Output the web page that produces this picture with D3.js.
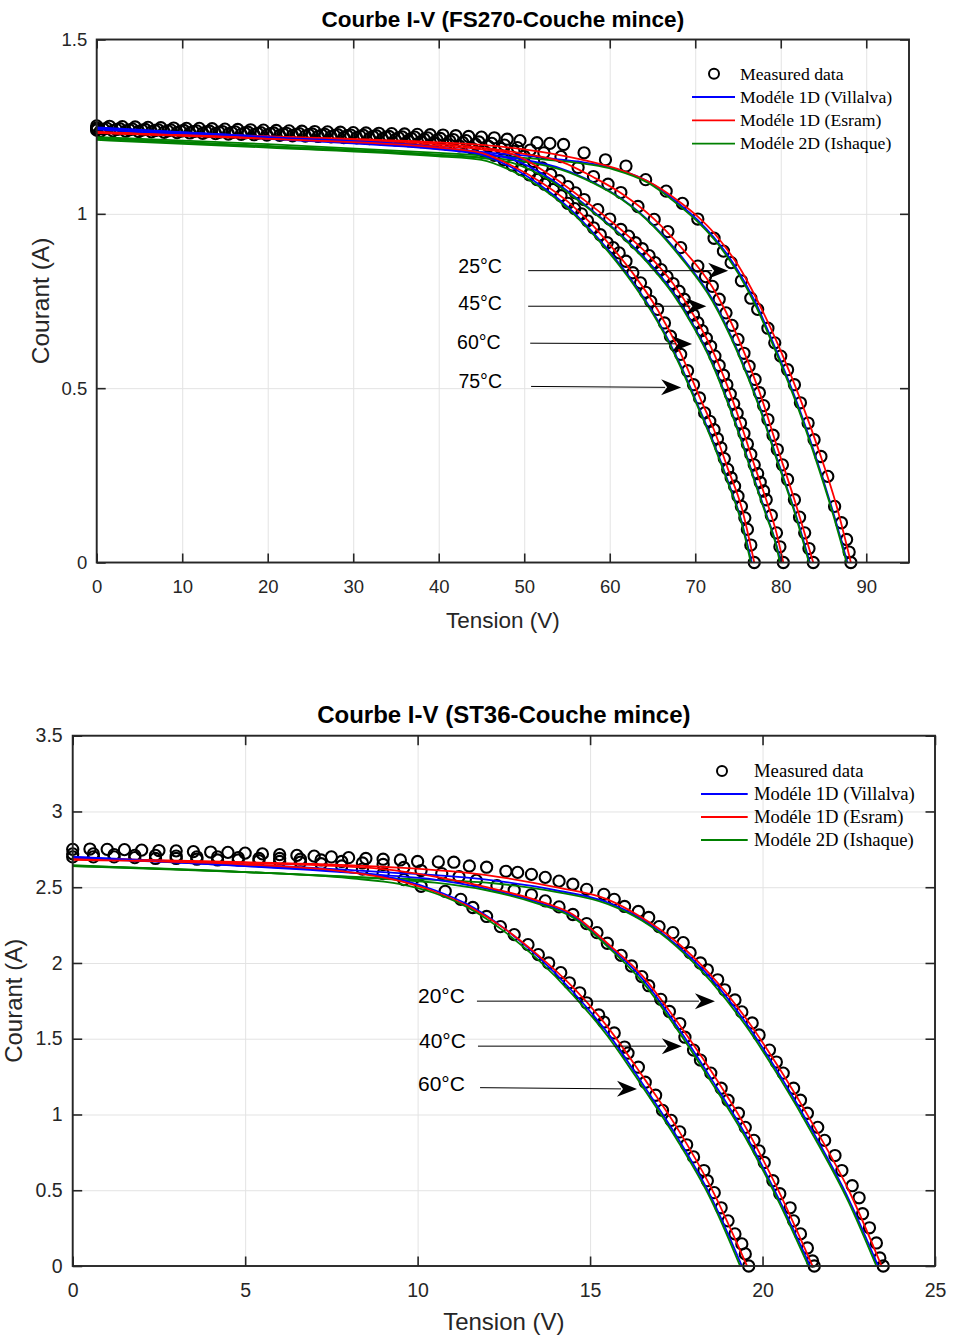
<!DOCTYPE html>
<html>
<head>
<meta charset="utf-8">
<script src="https://cdn.jsdelivr.net/npm/d3@7"></script>
<style>
  body { margin: 0; background: #fff; }
</style>
</head>
<body>
<div id="chart"></div>
<script>
// ---------- data : FS270 (top chart) ----------
let legendLabels = ['Measured data', 'Modéle 1D (Villalva)', 'Modéle 1D (Esram)', 'Modéle 2D (Ishaque)'];

let fsTemps = ['25°C', '45°C', '60°C', '75°C'];
let fsXTicks = [0, 10, 20, 30, 40, 50, 60, 70, 80, 90];
let fsYTicks = [0, 0.5, 1, 1.5];

let fsMeasured25 = [[0,1.252],[1.5,1.251],[3,1.25],[4.5,1.249],[6,1.248],[7.5,1.247],[9,1.246],[10.5,1.245],[12,1.245],[13.5,1.244],[15,1.243],[16.5,1.242],[18,1.241],[19.5,1.24],[21,1.239],[22.5,1.238],[24,1.237],[25.5,1.236],[27,1.235],[28.5,1.234],[30,1.233],[31.5,1.232],[33,1.231],[34.5,1.23],[36,1.229],[37.5,1.228],[39,1.227],[40.5,1.226],[42,1.224],[43.5,1.222],[45,1.22],[46.5,1.218],[48,1.214],[49.5,1.21],[51.5,1.204],[53,1.202],[54.6,1.199],[57,1.175],[59.5,1.155],[61.9,1.137],[64.2,1.098],[66.6,1.065],[68.5,1.03],[70.3,0.985],[72.2,0.93],[73.3,0.893],[74.2,0.86],[75.4,0.808],[76.5,0.758],[77.3,0.726],[78.5,0.672],[79.3,0.63],[80,0.592],[80.8,0.553],[81.6,0.51],[82.3,0.458],[83.2,0.4],[83.9,0.352],[84.7,0.304],[85.5,0.247],[86.3,0.161],[87.1,0.114],[87.7,0.066],[88,0.03],[88.2,0]];
let fsMeasured45 = [[0,1.246],[1.2,1.245],[2.7,1.244],[4.2,1.243],[5.7,1.242],[7.2,1.241],[8.7,1.24],[10.2,1.239],[11.7,1.238],[13.2,1.237],[14.7,1.236],[16.2,1.235],[17.7,1.234],[19.2,1.233],[20.7,1.232],[22.2,1.231],[23.7,1.23],[25.2,1.229],[26.7,1.228],[28.2,1.227],[29.7,1.226],[31.2,1.225],[32.7,1.224],[34.2,1.222],[35.7,1.221],[37.2,1.22],[38.7,1.218],[40.2,1.216],[41.7,1.213],[43.2,1.21],[44.7,1.206],[46.2,1.202],[47.7,1.197],[49.2,1.19],[50.7,1.183],[52.3,1.175],[54.3,1.164],[56.3,1.133],[58.1,1.107],[59.8,1.085],[61.3,1.061],[63.3,1.021],[65.2,0.984],[66.8,0.949],[68.3,0.903],[70.3,0.85],[71.2,0.82],[72,0.792],[72.8,0.755],[73.6,0.716],[74.3,0.68],[75,0.64],[75.7,0.6],[76.3,0.563],[77,0.525],[77.5,0.487],[78,0.45],[78.5,0.41],[79.1,0.365],[79.6,0.324],[80.2,0.28],[80.8,0.238],[81.6,0.18],[82.2,0.13],[82.8,0.085],[83.3,0.04],[83.8,0]];
let fsMeasured60 = [[0,1.243],[0.8,1.243],[2.3,1.242],[3.8,1.241],[5.3,1.24],[6.8,1.239],[8.3,1.238],[9.8,1.237],[11.3,1.236],[12.8,1.235],[14.3,1.234],[15.8,1.233],[17.3,1.232],[18.8,1.231],[20.3,1.23],[21.8,1.229],[23.3,1.228],[24.8,1.227],[26.3,1.226],[27.8,1.225],[29.3,1.224],[30.8,1.223],[32.3,1.222],[33.8,1.22],[35.3,1.218],[36.8,1.216],[38.3,1.214],[39.8,1.212],[41.3,1.209],[42.8,1.205],[44.3,1.2],[45.8,1.194],[47.3,1.187],[48.8,1.179],[50,1.165],[51.1,1.15],[52.1,1.132],[53.1,1.113],[54.1,1.095],[55.1,1.078],[56,1.06],[57,1.041],[58.6,1.012],[60,0.985],[61.3,0.955],[62.2,0.936],[63,0.917],[63.8,0.9],[64.6,0.88],[65.3,0.86],[66,0.84],[66.7,0.82],[67.4,0.8],[68.1,0.778],[68.7,0.755],[69.3,0.733],[69.8,0.71],[70.3,0.688],[70.8,0.665],[71.3,0.643],[71.8,0.62],[72.3,0.592],[72.8,0.565],[73.3,0.537],[73.7,0.51],[74.1,0.483],[74.5,0.455],[74.9,0.428],[75.3,0.4],[75.7,0.37],[76.1,0.34],[76.5,0.31],[76.9,0.28],[77.3,0.255],[77.6,0.23],[78,0.205],[78.3,0.18],[78.9,0.135],[79.5,0.085],[79.9,0.045],[80.3,0]];
let fsMeasured75 = [[0,1.24],[0.4,1.236],[1.9,1.238],[3.4,1.237],[4.9,1.236],[6.4,1.235],[7.9,1.234],[9.4,1.233],[10.9,1.232],[12.4,1.231],[13.9,1.23],[15.4,1.229],[16.9,1.228],[18.4,1.227],[19.9,1.226],[21.4,1.225],[22.9,1.224],[24.4,1.223],[25.9,1.222],[27.4,1.221],[28.9,1.219],[30.4,1.218],[31.9,1.216],[33.4,1.214],[34.9,1.212],[36.4,1.21],[37.9,1.207],[39.4,1.204],[40.9,1.2],[42.4,1.195],[43.9,1.188],[45.2,1.18],[46.5,1.168],[47.6,1.155],[48.6,1.14],[49.6,1.127],[50.6,1.112],[51.5,1.098],[52.4,1.085],[53.4,1.07],[54.3,1.052],[55.1,1.03],[55.9,1.015],[56.7,1.0],[57.4,0.98],[58.1,0.96],[58.9,0.94],[59.7,0.917],[60.4,0.903],[61.1,0.888],[61.9,0.864],[62.7,0.831],[63.6,0.802],[64.2,0.775],[64.8,0.749],[65.6,0.726],[66.4,0.687],[67.1,0.649],[67.7,0.622],[68.3,0.597],[69.1,0.55],[69.8,0.51],[70.5,0.472],[71.1,0.429],[71.7,0.405],[72.2,0.381],[72.6,0.355],[73,0.329],[73.4,0.298],[73.8,0.267],[74.2,0.243],[74.6,0.219],[75,0.19],[75.4,0.161],[75.8,0.128],[76.1,0.095],[76.5,0.05],[76.9,0]];

// model curves (key points)
let fsVillalva25 = [[0,1.245],[20,1.222],[40,1.19],[45,1.178],[52.7,1.16],[60.5,1.13],[64.4,1.094],[68.3,1.025],[70.3,0.982],[72.2,0.932],[73.6,0.888],[75,0.837],[77,0.748],[79.5,0.607],[82,0.452],[84,0.31],[86,0.155],[87.8,0]];
let fsEsram25 = [[0,1.235],[20,1.222],[40,1.205],[45,1.198],[50,1.185],[56.6,1.156],[61.7,1.122],[64.4,1.094],[68.3,1.032],[70.3,0.992],[72.2,0.945],[73.6,0.902],[75,0.853],[77.3,0.75],[80,0.607],[82.5,0.455],[84.5,0.318],[86.5,0.165],[88.2,0]];
let fsIshaque25 = [[0,1.22],[20,1.2],[40,1.175],[45,1.168],[52.7,1.155],[60.5,1.127],[64.4,1.09],[68.3,1.02],[70.3,0.977],[72.2,0.927],[73.6,0.882],[75,0.83],[77,0.74],[79.5,0.6],[82,0.445],[84,0.303],[86,0.148],[87.7,0]];

let fsVillalva45 = [[0,1.242],[20,1.215],[40,1.185],[45,1.172],[50,1.155],[54.3,1.13],[58.1,1.09],[61.3,1.045],[65.2,0.965],[68.3,0.88],[72,0.755],[75,0.605],[77.5,0.45],[79.6,0.295],[81.6,0.15],[83.4,0]];
let fsEsram45 = [[0,1.232],[20,1.218],[40,1.2],[45,1.19],[50,1.172],[54.3,1.15],[58.1,1.105],[61.3,1.06],[65.2,0.985],[68.3,0.905],[72,0.79],[75,0.645],[77.5,0.49],[79.6,0.33],[81.6,0.18],[83.8,0]];
let fsIshaque45 = [[0,1.218],[20,1.195],[40,1.17],[45,1.162],[50,1.15],[54.3,1.127],[58.1,1.088],[61.3,1.043],[65.2,0.962],[68.3,0.875],[72,0.75],[75,0.6],[77.5,0.445],[79.6,0.29],[81.6,0.145],[83.3,0]];

let fsVillalva60 = [[0,1.246],[20,1.218],[40,1.187],[45,1.175],[48.8,1.155],[53.1,1.1],[57,1.028],[61.3,0.94],[64.6,0.86],[67.4,0.775],[69.8,0.68],[71.8,0.585],[73.7,0.47],[75.3,0.36],[76.9,0.24],[78.3,0.14],[79.5,0.05],[80,0]];
let fsEsram60 = [[0,1.233],[20,1.218],[40,1.195],[45,1.185],[48.8,1.17],[53.1,1.11],[57,1.04],[61.3,0.955],[64.6,0.88],[67.4,0.8],[69.8,0.71],[71.8,0.62],[73.7,0.51],[75.3,0.4],[76.9,0.28],[78.3,0.18],[79.5,0.085],[80.3,0]];
let fsIshaque60 = [[0,1.215],[20,1.193],[40,1.168],[45,1.16],[48.8,1.145],[53.1,1.095],[57,1.025],[61.3,0.937],[64.6,0.855],[67.4,0.77],[69.8,0.675],[71.8,0.58],[73.7,0.465],[75.3,0.355],[76.9,0.235],[78.3,0.135],[79.5,0.045],[79.9,0]];

let fsVillalva75 = [[0,1.248],[20,1.22],[40,1.19],[45,1.17],[48.4,1.135],[52,1.08],[55.1,1.02],[58.1,0.945],[59.7,0.9],[62.7,0.805],[65.6,0.695],[68.3,0.565],[70.5,0.44],[72.2,0.34],[73.8,0.235],[75.4,0.12],[76.6,0]];
let fsEsram75 = [[0,1.232],[20,1.215],[40,1.19],[45,1.175],[48.4,1.14],[52,1.09],[55.1,1.035],[58.1,0.965],[59.7,0.92],[62.7,0.83],[65.6,0.725],[68.3,0.6],[70.5,0.475],[72.2,0.38],[73.8,0.27],[75.4,0.16],[76.9,0]];
let fsIshaque75 = [[0,1.212],[20,1.19],[40,1.165],[45,1.155],[48.4,1.125],[52,1.075],[55.1,1.015],[58.1,0.94],[59.7,0.895],[62.7,0.8],[65.6,0.69],[68.3,0.56],[70.5,0.435],[72.2,0.335],[73.8,0.23],[75.4,0.115],[76.5,0]];

// ---------- data : ST36 (bottom chart) ----------
let stTemps = ['20°C', '40°C', '60°C'];
let stXTicks = [0, 5, 10, 15, 20, 25];
let stYTicks = [0, 0.5, 1, 1.5, 2, 2.5, 3, 3.5];

let stMeasured20 = [[0,2.75],[0.5,2.752],[1,2.75],[1.5,2.748],[2,2.745],[2.5,2.742],[3,2.74],[3.5,2.735],[4,2.732],[4.5,2.73],[5,2.725],[5.5,2.72],[6,2.715],[6.5,2.71],[7,2.705],[7.5,2.7],[8,2.695],[8.5,2.69],[9,2.685],[9.5,2.68],[10,2.67],[10.6,2.667],[11.05,2.665],[11.5,2.64],[12,2.632],[12.56,2.605],[12.9,2.598],[13.3,2.585],[13.7,2.565],[14.1,2.54],[14.5,2.52],[14.9,2.486],[15.4,2.453],[15.7,2.42],[16,2.373],[16.4,2.34],[16.7,2.3],[17,2.24],[17.4,2.2],[17.7,2.134],[17.9,2.068],[18.2,2],[18.4,1.955],[18.7,1.889],[18.9,1.823],[19.2,1.756],[19.4,1.677],[19.7,1.604],[19.9,1.525],[20.2,1.425],[20.4,1.346],[20.6,1.273],[20.9,1.173],[21.1,1.094],[21.3,1.008],[21.6,0.915],[21.8,0.829],[22.1,0.729],[22.3,0.63],[22.6,0.53],[22.8,0.45],[22.9,0.345],[23.1,0.252],[23.3,0.152],[23.4,0.053],[23.5,0]];
let stMeasured40 = [[0,2.72],[0.6,2.72],[1.2,2.715],[1.8,2.71],[2.4,2.71],[3,2.705],[3.6,2.7],[4.2,2.7],[4.8,2.695],[5.4,2.69],[6,2.69],[6.6,2.685],[7.2,2.68],[7.8,2.67],[8.4,2.66],[9,2.65],[9.6,2.63],[10.1,2.61],[10.7,2.59],[11.2,2.57],[11.7,2.545],[12.3,2.51],[12.8,2.48],[13.3,2.45],[13.7,2.41],[14.1,2.37],[14.5,2.32],[14.9,2.26],[15.2,2.2],[15.5,2.13],[15.9,2.05],[16.2,1.98],[16.5,1.91],[16.7,1.85],[17.05,1.76],[17.3,1.68],[17.6,1.6],[17.75,1.51],[18,1.425],[18.2,1.359],[18.5,1.273],[18.8,1.173],[19,1.094],[19.3,1.008],[19.5,0.915],[19.75,0.829],[19.9,0.76],[20.05,0.683],[20.3,0.563],[20.5,0.477],[20.8,0.384],[20.9,0.298],[21.1,0.212],[21.3,0.119],[21.45,0.033],[21.5,0]];
let stMeasured60 = [[0,2.7],[0.6,2.7],[1.2,2.7],[1.8,2.695],[2.4,2.69],[3,2.69],[3.6,2.685],[4.2,2.68],[4.8,2.68],[5.4,2.675],[6,2.67],[6.6,2.665],[7.2,2.655],[7.8,2.64],[8.4,2.62],[9,2.59],[9.6,2.55],[10.1,2.506],[10.8,2.473],[11.25,2.42],[11.6,2.366],[12,2.307],[12.4,2.24],[12.8,2.187],[13.2,2.121],[13.5,2.055],[13.8,2],[14.15,1.936],[14.4,1.869],[14.7,1.803],[14.9,1.737],[15.25,1.657],[15.4,1.61],[15.7,1.538],[16,1.445],[16.1,1.405],[16.4,1.312],[16.6,1.213],[16.9,1.127],[17.1,1.027],[17.35,0.961],[17.6,0.885],[17.8,0.8],[18,0.72],[18.3,0.63],[18.4,0.563],[18.6,0.484],[18.8,0.384],[19,0.298],[19.2,0.212],[19.4,0.146],[19.5,0.08],[19.6,0]];

let stVillalva20 = [[0,2.7],[5,2.65],[9,2.6],[12,2.55],[14,2.48],[15.5,2.4],[16.5,2.29],[17.5,2.12],[18.5,1.9],[19.5,1.61],[20.5,1.26],[21.5,0.87],[22.5,0.44],[23.35,0]];
let stEsram20 = [[0,2.69],[5,2.665],[9,2.635],[12,2.58],[14,2.5],[15.5,2.42],[16.5,2.3],[17.5,2.14],[18.5,1.92],[19.5,1.64],[20.5,1.3],[21.5,0.92],[22.5,0.5],[23.45,0]];
let stIshaque20 = [[0,2.645],[5,2.6],[9,2.56],[12,2.53],[14,2.47],[15.5,2.39],[16.5,2.28],[17.5,2.11],[18.5,1.88],[19.5,1.59],[20.5,1.24],[21.5,0.85],[22.5,0.42],[23.3,0]];

let stVillalva40 = [[0,2.69],[5,2.64],[9,2.58],[10.5,2.55],[12,2.49],[13.5,2.4],[14.5,2.31],[15.5,2.12],[16.5,1.9],[17.5,1.59],[18.5,1.24],[19.5,0.87],[20.5,0.43],[21.38,0]];
let stEsram40 = [[0,2.685],[5,2.66],[9,2.62],[10.5,2.57],[12,2.5],[13.5,2.41],[14.5,2.32],[15.5,2.13],[16.5,1.92],[17.5,1.62],[18.5,1.29],[19.5,0.92],[20.5,0.48],[21.45,0]];
let stIshaque40 = [[0,2.64],[5,2.6],[9,2.555],[10.5,2.53],[12,2.48],[13.5,2.39],[14.5,2.3],[15.5,2.11],[16.5,1.88],[17.5,1.57],[18.5,1.22],[19.5,0.85],[20.5,0.41],[21.33,0]];

let stVillalva60 = [[0,2.7],[5,2.64],[8,2.6],[9.5,2.55],[10.5,2.48],[11.5,2.38],[12.5,2.23],[13.5,2.04],[14.5,1.81],[15.5,1.54],[16.5,1.21],[17.5,0.86],[18.5,0.46],[19.4,0]];
let stEsram60 = [[0,2.68],[5,2.65],[8,2.6],[9.5,2.54],[10.5,2.47],[11.5,2.37],[12.5,2.23],[13.5,2.05],[14.5,1.84],[15.5,1.58],[16.5,1.26],[17.5,0.92],[18.5,0.52],[19.55,0]];
let stIshaque60 = [[0,2.64],[5,2.6],[8,2.56],[9.5,2.52],[10.5,2.46],[11.5,2.36],[12.5,2.21],[13.5,2.02],[14.5,1.79],[15.5,1.52],[16.5,1.19],[17.5,0.84],[18.5,0.44],[19.35,0]];

// ---------- page ----------
let svg = d3.select('#chart')
  .append('svg')
  .attr('width', 953)
  .attr('height', 1340);

let fontSans = 'Liberation Sans, Arial, Helvetica, sans-serif';
let fontSerif = 'Liberation Serif, Times New Roman, serif';
let axisColor = '#262626';
let modelColors = ['#0000ff', '#ff0000', '#008000'];

function drawPanel(p) {
  let g = svg.append('g');
  let h = p.bottom - p.top;
  let w = p.right - p.left;

  // scales
  let x = d3.scaleLinear().domain(p.xDomain).range([p.left, p.right]);
  let y = d3.scaleLinear().domain(p.yDomain).range([p.bottom, p.top]);

  // grid
  g.append('g')
    .attr('transform', `translate(0, ${p.bottom})`)
    .call(d3.axisBottom(x).tickValues(p.xTicks).tickSize(-h).tickFormat(''))
    .call(s => s.select('.domain').remove())
    .selectAll('line')
    .attr('stroke', '#e3e3e3');

  g.append('g')
    .attr('transform', `translate(${p.left}, 0)`)
    .call(d3.axisLeft(y).tickValues(p.yTicks).tickSize(-w).tickFormat(''))
    .call(s => s.select('.domain').remove())
    .selectAll('line')
    .attr('stroke', '#e3e3e3');

  // measured points
  p.measured.forEach(function(series) {
    g.append('g')
      .selectAll('circle')
      .data(series)
      .enter()
      .append('circle')
      .attr('cx', d => x(d[0]))
      .attr('cy', d => y(d[1]))
      .attr('r', 5.6)
      .attr('fill', 'none')
      .attr('stroke', '#000')
      .attr('stroke-width', 2.1);
  });

  // model curves
  let line = d3.line()
    .x(d => x(d[0]))
    .y(d => y(d[1]))
    .curve(d3.curveMonotoneX);

  p.models.forEach(function(group) {
    group.forEach(function(series, i) {
      g.append('path')
        .datum(series)
        .attr('d', line)
        .attr('fill', 'none')
        .attr('stroke', modelColors[i])
        .attr('stroke-width', 1.8);
    });
  });

  // axes (ticks inside, on all four sides)
  let tick = p.tickLen;
  let xAxis = g.append('g')
    .attr('transform', `translate(0, ${p.bottom})`)
    .call(d3.axisBottom(x).tickValues(p.xTicks).tickSizeInner(-tick).tickSizeOuter(0)
      .tickPadding(p.xPad).tickFormat(d => d));
  let yAxis = g.append('g')
    .attr('transform', `translate(${p.left}, 0)`)
    .call(d3.axisLeft(y).tickValues(p.yTicks).tickSizeInner(-tick).tickSizeOuter(0)
      .tickPadding(p.yPad).tickFormat(d => d));
  let topAxis = g.append('g')
    .attr('transform', `translate(0, ${p.top})`)
    .call(d3.axisTop(x).tickValues(p.xTicks).tickSizeInner(-tick).tickSizeOuter(0).tickFormat(''));
  let rightAxis = g.append('g')
    .attr('transform', `translate(${p.right}, 0)`)
    .call(d3.axisRight(y).tickValues(p.yTicks).tickSizeInner(-tick).tickSizeOuter(0).tickFormat(''));

  [xAxis, yAxis, topAxis, rightAxis].forEach(function(a) {
    a.select('.domain').remove();
    a.attr('font-family', fontSans)
      .attr('font-size', p.tickFont)
      .attr('color', axisColor);
    a.selectAll('line').attr('stroke-width', 1.6);
  });

  // box
  g.append('rect')
    .attr('x', p.left)
    .attr('y', p.top)
    .attr('width', w)
    .attr('height', h)
    .attr('fill', 'none')
    .attr('stroke', axisColor)
    .attr('stroke-width', 1.9);

  // title and labels
  g.append('text')
    .attr('x', (p.left + p.right) / 2)
    .attr('y', p.titleY)
    .attr('text-anchor', 'middle')
    .attr('font-family', fontSans)
    .attr('font-weight', 'bold')
    .attr('font-size', p.titleFont)
    .attr('fill', '#000')
    .text(p.title);

  g.append('text')
    .attr('x', (p.left + p.right) / 2)
    .attr('y', p.xLabelY)
    .attr('text-anchor', 'middle')
    .attr('font-family', fontSans)
    .attr('font-size', p.xLabelFont)
    .attr('fill', axisColor)
    .text('Tension (V)');

  g.append('text')
    .attr('transform', `translate(${p.yLabelX}, ${(p.top + p.bottom) / 2}) rotate(-90)`)
    .attr('text-anchor', 'middle')
    .attr('font-family', fontSans)
    .attr('font-size', p.yLabelFont)
    .attr('fill', axisColor)
    .text('Courant (A)');

  // temperature annotations with arrows
  p.notes.forEach(function(n) {
    g.append('text')
      .attr('x', x(n.text[0]))
      .attr('y', y(n.text[1]))
      .attr('dy', '0.36em')
      .attr('text-anchor', 'middle')
      .attr('font-family', fontSans)
      .attr('font-size', p.noteFont)
      .attr('fill', '#000')
      .text(n.label);

    let x1 = x(n.from[0]), y1 = y(n.from[1]);
    let x2 = x(n.to[0]), y2 = y(n.to[1]);
    let ang = Math.atan2(y2 - y1, x2 - x1);
    let L = 20, W = 8;
    let back = [x2 - L * Math.cos(ang), y2 - L * Math.sin(ang)];

    g.append('line')
      .attr('x1', x1).attr('y1', y1)
      .attr('x2', back[0] + 4 * Math.cos(ang)).attr('y2', back[1] + 4 * Math.sin(ang))
      .attr('stroke', '#000')
      .attr('stroke-width', 1);

    let pts = [
      [x2, y2],
      [back[0] - W * Math.sin(ang), back[1] + W * Math.cos(ang)],
      [x2 - 0.7 * L * Math.cos(ang), y2 - 0.7 * L * Math.sin(ang)],
      [back[0] + W * Math.sin(ang), back[1] - W * Math.cos(ang)]
    ];
    g.append('path')
      .attr('d', 'M' + pts.map(q => q.join(',')).join('L') + 'Z')
      .attr('fill', '#000');
  });

  // legend (no box)
  legendLabels.forEach(function(label, i) {
    let ly = p.legendY[i];
    if (i === 0) {
      g.append('circle')
        .attr('cx', p.legendMarkerX)
        .attr('cy', ly)
        .attr('r', 5)
        .attr('fill', 'none')
        .attr('stroke', '#000')
        .attr('stroke-width', 2);
    } else {
      g.append('line')
        .attr('x1', p.legendLineX[0]).attr('x2', p.legendLineX[1])
        .attr('y1', ly).attr('y2', ly)
        .attr('stroke', modelColors[i - 1])
        .attr('stroke-width', 1.8);
    }
    g.append('text')
      .attr('x', p.legendTextX)
      .attr('y', ly)
      .attr('dy', '0.33em')
      .attr('font-family', fontSerif)
      .attr('font-size', p.legendFont)
      .attr('fill', '#000')
      .text(label);
  });
}

// Top chart : FS270
drawPanel({
  left: 96.7, right: 909, top: 39.5, bottom: 562.5,
  xDomain: [0, 95], yDomain: [0, 1.5],
  xTicks: fsXTicks, yTicks: fsYTicks,
  tickLen: 9, tickFont: 18.5, xPad: 17.5, yPad: 9.5,
  title: 'Courbe I-V (FS270-Couche mince)', titleY: 27, titleFont: 22.5,
  xLabelY: 628, yLabelX: 48.5, xLabelFont: 22.5, yLabelFont: 24.5,
  measured: [fsMeasured25, fsMeasured45, fsMeasured60, fsMeasured75],
  models: [
    [fsVillalva25, fsEsram25, fsIshaque25],
    [fsVillalva45, fsEsram45, fsIshaque45],
    [fsVillalva60, fsEsram60, fsIshaque60],
    [fsVillalva75, fsEsram75, fsIshaque75]
  ],
  notes: [
    {label: fsTemps[0], text: [44.84, 0.850], from: [50.46, 0.837], to: [73.85, 0.837]},
    {label: fsTemps[1], text: [44.84, 0.744], from: [50.46, 0.735], to: [71.3, 0.735]},
    {label: fsTemps[2], text: [44.7, 0.632], from: [50.7, 0.629], to: [69.63, 0.627]},
    {label: fsTemps[3], text: [44.85, 0.520], from: [50.8, 0.505], to: [68.35, 0.502]}
  ],
  noteFont: 19.5,
  legendY: [73.7, 97, 120.3, 143.6],
  legendMarkerX: 714, legendLineX: [692, 735], legendTextX: 740, legendFont: 17.7
});

// Bottom chart : ST36
drawPanel({
  left: 72.7, right: 935, top: 735.7, bottom: 1266,
  xDomain: [0, 25], yDomain: [0, 3.5],
  xTicks: stXTicks, yTicks: stYTicks,
  tickLen: 9.5, tickFont: 19.5, xPad: 17, yPad: 10,
  title: 'Courbe I-V (ST36-Couche mince)', titleY: 723, titleFont: 24,
  xLabelY: 1330, yLabelX: 21.5, xLabelFont: 24, yLabelFont: 24,
  measured: [stMeasured20, stMeasured40, stMeasured60],
  models: [
    [stVillalva20, stEsram20, stIshaque20],
    [stVillalva40, stEsram40, stIshaque40],
    [stVillalva60, stEsram60, stIshaque60]
  ],
  notes: [
    {label: stTemps[0], text: [10.69, 1.788], from: [11.72, 1.748], to: [18.62, 1.748]},
    {label: stTemps[1], text: [10.72, 1.491], from: [11.75, 1.451], to: [17.66, 1.451]},
    {label: stTemps[2], text: [10.69, 1.207], from: [11.81, 1.177], to: [16.36, 1.168]}
  ],
  noteFont: 21,
  legendY: [771, 794, 817, 840],
  legendMarkerX: 722, legendLineX: [701, 747.7], legendTextX: 754, legendFont: 18.7
});
</script>
</body>
</html>
